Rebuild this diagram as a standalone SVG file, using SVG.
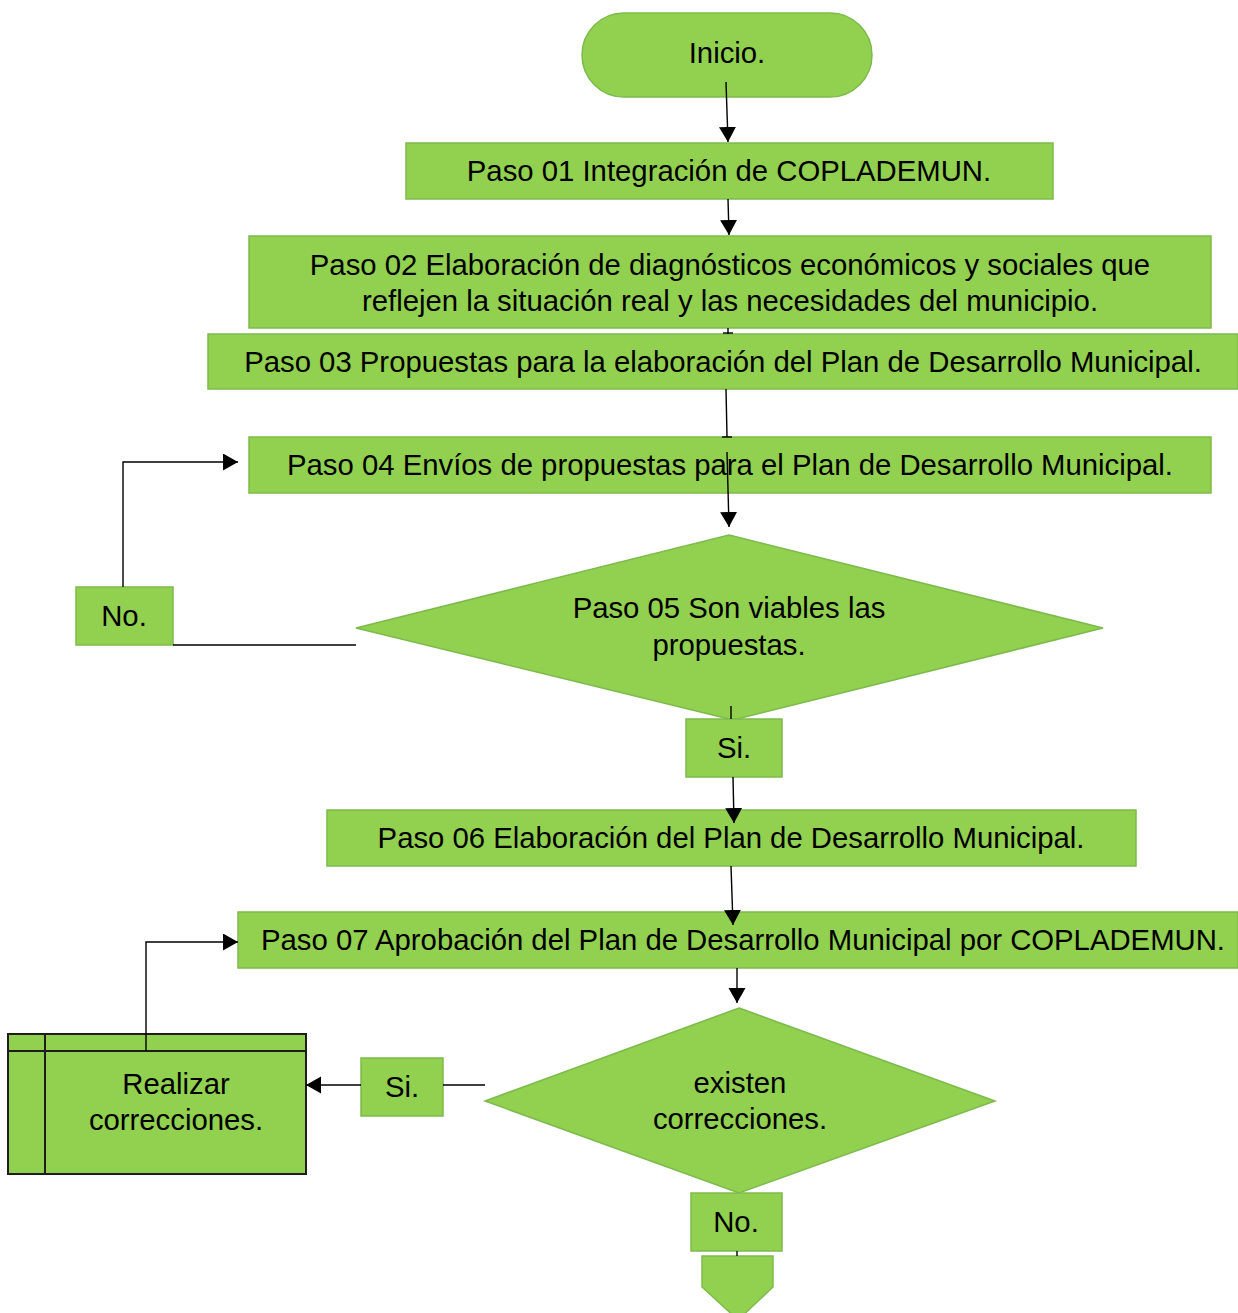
<svg xmlns="http://www.w3.org/2000/svg" width="1238" height="1313" viewBox="0 0 1238 1313">
  <style>
    .box { fill: #92D050; stroke: #7DBA4C; stroke-width: 1.5; }
    .dark { fill: #92D050; stroke: #1E1E1E; stroke-width: 2; }
    .t { font-family: "Liberation Sans", Arial, sans-serif; font-size: 29.3px; fill: #000; text-anchor: middle; }
    .c { fill: none; stroke: #000; stroke-width: 1.4; }
  </style>
  <defs>
    <marker id="arrow" markerUnits="userSpaceOnUse" markerWidth="18" markerHeight="20" refX="15" refY="8.5" orient="auto">
      <path d="M0,0 L15,8.5 L0,17 z" fill="#000"/>
    </marker>
  </defs>
  <rect width="1238" height="1313" fill="#fff"/>

  <g id="inicio">
    <rect class="box" x="582" y="13" width="290" height="84" rx="42" ry="42"/>
    <text class="t" x="727" y="63">Inicio.</text>
  </g>
  <g id="paso01">
    <rect class="box" x="406" y="143" width="647" height="56"/>
    <text class="t" x="729" y="181">Paso 01 Integración de COPLADEMUN.</text>
  </g>
  <g id="paso02">
    <rect class="box" x="249" y="236" width="962" height="92"/>
    <text class="t" x="730" y="275">Paso 02 Elaboración de diagnósticos económicos y sociales que</text>
    <text class="t" x="730" y="311">reflejen la situación real y las necesidades del municipio.</text>
  </g>
  <g id="paso03">
    <rect class="box" x="208" y="334" width="1030" height="55"/>
    <text class="t" x="723" y="372">Paso 03 Propuestas para la elaboración del Plan de Desarrollo Municipal.</text>
  </g>
  <g id="paso04">
    <rect class="box" x="249" y="437" width="962" height="56"/>
    <text class="t" x="730" y="475">Paso 04 Envíos de propuestas para el Plan de Desarrollo Municipal.</text>
  </g>
  <g id="paso05">
    <polygon class="box" points="729,535 1103,628 733,720 356,628"/>
    <text class="t" x="729" y="618">Paso 05 Son viables las</text>
    <text class="t" x="729" y="655">propuestas.</text>
  </g>
  <g id="no1">
    <rect class="box" x="76" y="587" width="97" height="58"/>
    <text class="t" x="124" y="626">No.</text>
  </g>
  <g id="si1">
    <rect class="box" x="686" y="719" width="96" height="58"/>
    <text class="t" x="734" y="758">Si.</text>
  </g>
  <g id="paso06">
    <rect class="box" x="327" y="810" width="809" height="56"/>
    <text class="t" x="731" y="848">Paso 06 Elaboración del Plan de Desarrollo Municipal.</text>
  </g>
  <g id="paso07">
    <rect class="box" x="238" y="912" width="1000" height="56"/>
    <text class="t" x="743" y="950">Paso 07 Aprobación del Plan de Desarrollo Municipal por COPLADEMUN.</text>
  </g>
  <g id="correcciones">
    <polygon class="box" points="739,1008 995,1101 739,1193 485,1101"/>
    <text class="t" x="740" y="1093">existen</text>
    <text class="t" x="740" y="1129">correcciones.</text>
  </g>
  <g id="si2">
    <rect class="box" x="361" y="1058" width="82" height="58"/>
    <text class="t" x="402" y="1097">Si.</text>
  </g>
  <g id="realizar">
    <rect class="dark" x="8" y="1034" width="298" height="140"/>
    <line x1="8" y1="1051" x2="306" y2="1051" stroke="#1E1E1E" stroke-width="2"/>
    <line x1="45" y1="1034" x2="45" y2="1174" stroke="#1E1E1E" stroke-width="2"/>
    <text class="t" x="176" y="1094">Realizar</text>
    <text class="t" x="176" y="1130">correcciones.</text>
  </g>
  <g id="no2">
    <rect class="box" x="691" y="1193" width="91" height="58"/>
    <text class="t" x="736" y="1232">No.</text>
  </g>
  <g id="conector-pagina">
    <polygon class="box" points="702,1256 773,1256 773,1287 738,1320 702,1287"/>
  </g>

  <g id="connectors">
    <line class="c" x1="726" y1="82" x2="728" y2="142" marker-end="url(#arrow)"/>
    <line class="c" x1="728" y1="199" x2="729" y2="235" marker-end="url(#arrow)"/>
    <line class="c" x1="728" y1="328" x2="728" y2="334"/>
    <line class="c" x1="723" y1="333" x2="733" y2="333"/>
    <line class="c" x1="726" y1="389" x2="727" y2="437"/>
    <line class="c" x1="722" y1="437" x2="732" y2="437"/>
    <line class="c" x1="727" y1="452" x2="729" y2="527" marker-end="url(#arrow)"/>
    <polyline class="c" points="123,587 123,462 238,462" marker-end="url(#arrow)"/>
    <line class="c" x1="173" y1="645" x2="356" y2="645"/>
    <line class="c" x1="731" y1="706" x2="731" y2="719"/>
    <line class="c" x1="733" y1="777" x2="734" y2="823" marker-end="url(#arrow)"/>
    <line class="c" x1="731" y1="866" x2="733" y2="925" marker-end="url(#arrow)"/>
    <line class="c" x1="737" y1="968" x2="737" y2="1003" marker-end="url(#arrow)"/>
    <line class="c" x1="443" y1="1085" x2="485" y2="1085"/>
    <line class="c" x1="361" y1="1085" x2="306" y2="1085" marker-end="url(#arrow)"/>
    <polyline class="c" points="146,1051 146,942 238,942" marker-end="url(#arrow)"/>
    <line class="c" x1="737" y1="1251" x2="737" y2="1256"/>
  </g>
</svg>
